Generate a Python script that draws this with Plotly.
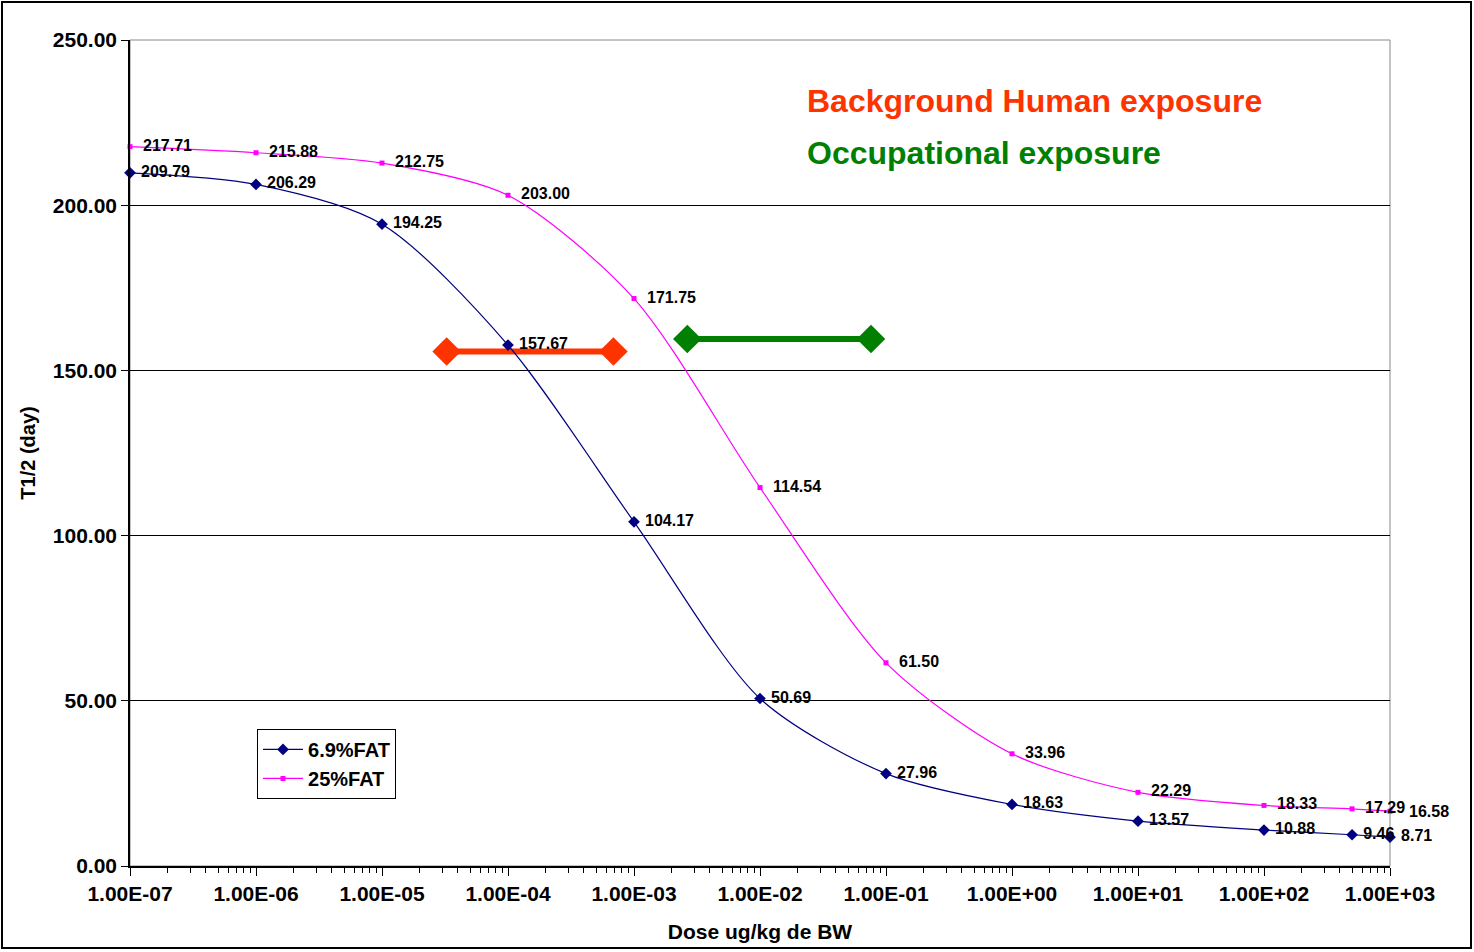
import math
import plotly.graph_objects as go

dose = [1e-7, 1e-6, 1e-5, 1e-4, 1e-3, 1e-2, 1e-1, 1e0, 1e1, 1e2, 5e2, 1e3]
fat69 = [209.79, 206.29, 194.25, 157.67, 104.17, 50.69, 27.96, 18.63, 13.57, 10.88, 9.46, 8.71]
fat25 = [217.71, 215.88, 212.75, 203.00, 171.75, 114.54, 61.50, 33.96, 22.29, 18.33, 17.29, 16.58]

background_x = [3.26e-5, 6.86e-4]
background_y = [155.7, 155.7]
occupational_x = [2.65e-3, 7.6e-2]
occupational_y = [159.5, 159.5]

tick_vals = [1e-7, 1e-6, 1e-5, 1e-4, 1e-3, 1e-2, 1e-1, 1e0, 1e1, 1e2, 1e3]
tick_text = ["1.00E-07", "1.00E-06", "1.00E-05", "1.00E-04", "1.00E-03", "1.00E-02",
             "1.00E-01", "1.00E+00", "1.00E+01", "1.00E+02", "1.00E+03"]

FONT = "Liberation Sans, Arial, sans-serif"

labels69 = [" " + f"{v:.2f}" for v in fat69]
labels25 = ["  " + f"{v:.2f}" for v in fat25]
labels25[-1] = ""  # last label drawn as an annotation so it sits just after 17.29

fig = go.Figure()

fig.add_trace(go.Scatter(
    x=background_x, y=background_y, mode="lines+markers",
    line=dict(color="#FF3300", width=6),
    marker=dict(symbol="diamond", size=22, color="#FF3300"),
    showlegend=False, hoverinfo="skip", cliponaxis=False))
fig.add_trace(go.Scatter(
    x=occupational_x, y=occupational_y, mode="lines+markers",
    line=dict(color="#007F00", width=6),
    marker=dict(symbol="diamond", size=22, color="#007F00"),
    showlegend=False, hoverinfo="skip", cliponaxis=False))

fig.add_trace(go.Scatter(
    x=dose, y=fat69, name="6.9%FAT", mode="lines+markers+text",
    line=dict(color="#000080", width=1.2, shape="spline", smoothing=0.8),
    marker=dict(symbol="diamond", size=9, color="#000080"),
    text=labels69, textposition="middle right",
    textfont=dict(family=FONT, size=16, color="black", weight="bold"),
    cliponaxis=False))
fig.add_trace(go.Scatter(
    x=dose, y=fat25, name="25%FAT", mode="lines+markers+text",
    line=dict(color="#FF00FF", width=1.2, shape="spline", smoothing=0.8),
    marker=dict(symbol="square", size=5, color="#FF00FF"),
    text=labels25, textposition="middle right",
    textfont=dict(family=FONT, size=16, color="black", weight="bold"),
    cliponaxis=False))

fig.add_annotation(x=math.log10(dose[-1]), y=fat25[-1], xref="x", yref="y",
                   text=f"{fat25[-1]:.2f}", showarrow=False, xanchor="left", yanchor="middle",
                   xshift=17, font=dict(family=FONT, size=16, color="black", weight="bold"))

fig.update_layout(
    width=1474, height=952,
    margin=dict(l=130, r=84, t=40, b=86),
    paper_bgcolor="white", plot_bgcolor="white",
    font=dict(family=FONT, color="black"),
    xaxis=dict(
        type="log", range=[-7, 3], tickmode="array", tickvals=tick_vals, ticktext=tick_text,
        ticks="outside", ticklen=8, tickcolor="black", showgrid=False,
        showline=True, linecolor="black", linewidth=1.5, zeroline=False,
        tickfont=dict(family=FONT, size=21, weight="bold"),
        minor=dict(ticks="outside", ticklen=5, tickcolor="black", dtick="D1", showgrid=False),
        title=dict(text="Dose ug/kg de BW", font=dict(family=FONT, size=21, weight="bold"), standoff=20),
    ),
    yaxis=dict(
        range=[0, 250], dtick=50, tickformat=".2f",
        ticks="outside", ticklen=7, tickcolor="black",
        showgrid=True, gridcolor="black", gridwidth=1,
        showline=True, linecolor="black", linewidth=1.5, zeroline=False,
        tickfont=dict(family=FONT, size=21, weight="bold"),
        title=dict(text="T1/2 (day)", font=dict(family=FONT, size=20, weight="bold"), standoff=12),
    ),
    legend=dict(
        x=0.1008, y=0.1659, xanchor="left", yanchor="top",
        bgcolor="white", bordercolor="black", borderwidth=1,
        font=dict(family=FONT, size=20, weight="bold"),
        tracegroupgap=0, itemwidth=40,
    ),
    showlegend=True,
)

fig.add_shape(type="rect", xref="paper", yref="paper", x0=0, x1=1, y0=0, y1=1,
              line=dict(color="#888888", width=1), layer="below")
fig.add_shape(type="rect", xref="paper", yref="paper",
              x0=-128 / 1260, x1=1341 / 1260, y0=-82 / 826, y1=(826 + 38) / 826,
              line=dict(color="black", width=2), layer="below")

fig.add_annotation(text="Background Human exposure", xref="paper", yref="paper",
                   x=(805 - 130) / 1260, y=(866 - 101) / 826, xanchor="left", yanchor="middle",
                   showarrow=False, font=dict(family=FONT, size=32, color="#FF3300", weight="bold"))
fig.add_annotation(text="Occupational exposure", xref="paper", yref="paper",
                   x=(805 - 130) / 1260, y=(866 - 153) / 826, xanchor="left", yanchor="middle",
                   showarrow=False, font=dict(family=FONT, size=32, color="#008000", weight="bold"))

fig.write_html("out.html", config={"displayModeBar": False},
               post_script="document.body.style.margin='0';document.body.style.overflow='hidden';")
